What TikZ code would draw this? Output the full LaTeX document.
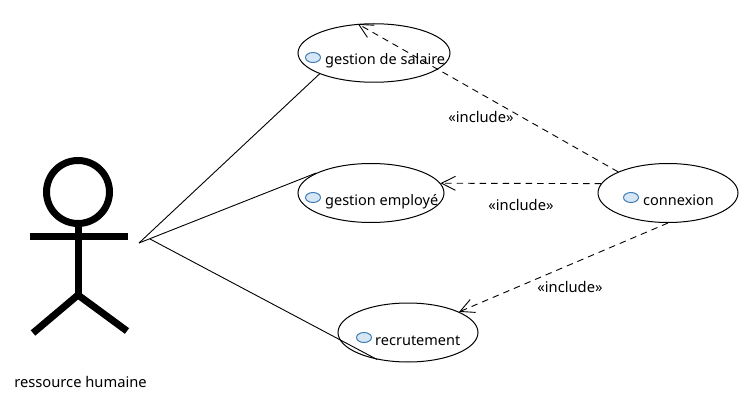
\documentclass[tikz,border=0pt]{standalone}
\usepackage{fontspec}
\setmainfont{Noto Sans}
\usetikzlibrary{arrows.meta,shapes.geometric}
\definecolor{iconfill}{HTML}{D6E6F5}
\definecolor{iconline}{HTML}{3F7FB5}
\tikzset{
  usecase/.style={draw,ellipse,line width=1pt,inner sep=0pt},
  usecaseicon/.style={draw=iconline,fill=iconfill,ellipse,line width=1pt,minimum width=15pt,minimum height=10pt,inner sep=0pt},
  casetext/.style={anchor=base west,inner sep=0pt,font=\fontsize{14.5}{16}\selectfont},
  steplabel/.style={anchor=base,inner sep=0pt,font=\fontsize{14.7}{16}\selectfont},
  assoc/.style={line width=0.9pt},
  incl/.style={dashed,dash pattern=on 6.5pt off 5pt,line width=0.9pt,-{Straight Barb[length=14pt,width=14pt,line width=0.9pt]}},
  stick/.style={line width=7pt}
}
\begin{document}
\begin{tikzpicture}[x=1pt,y=1pt]
\useasboundingbox (0,0) rectangle (748,400);
\node[usecase,minimum width=152pt,minimum height=58.5pt] (salaire) at (374,347) {};
\node[usecase,minimum width=146pt,minimum height=59pt] (employe) at (371,207) {};
\node[usecase,minimum width=140pt,minimum height=59pt] (recrutement) at (408,67.5) {};
\node[usecase,minimum width=140pt,minimum height=59pt] (connexion) at (668,207) {};
\node[usecaseicon] (salaireicon) at (313,342.5) {};
\node[usecaseicon] (employeicon) at (313,202.5) {};
\node[usecaseicon] (recrutementicon) at (364,62.5) {};
\node[usecaseicon] (connexionicon) at (631,202.5) {};
\node[casetext] (salairetext) at (325,335) {gestion de salaire};
\node[casetext] (employetext) at (325,195) {gestion employé};
\node[casetext] (recrutementtext) at (375,55) {recrutement};
\node[casetext] (connexiontext) at (643,195) {connexion};
\node[circle,draw,stick,minimum size=63pt,inner sep=0pt] (head) at (78,208) {};
\coordinate (armleft) at (30,164);
\coordinate (armright) at (128,164);
\coordinate (hip) at (78,105);
\coordinate (footleft) at (33,67);
\coordinate (footright) at (127,69);
\draw[stick] (armleft) -- (armright);
\draw[stick] (head.south) -- (hip);
\draw[stick] (footleft) -- (hip) -- (footright);
\node[steplabel] (actorname) at (80.5,13) {ressource humaine};
\coordinate (apex) at (139,157);
\coordinate (fork) at (150,161);
\draw[assoc] (apex) -- (salaire.201);
\draw[assoc] (apex) -- (employe.160);
\draw[assoc] (fork) -- (recrutement.221);
\draw[incl] (connexion.157) -- (salaire.119);
\draw[incl] (connexion.172) -- (employe.8);
\draw[incl] (connexion.270) -- (recrutement.22);
\node[steplabel] (inclsalaire) at (481,278) {«include»};
\node[steplabel] (inclemploye) at (521,190) {«include»};
\node[steplabel] (inclrecrutement) at (570,108) {«include»};
\end{tikzpicture}
\end{document}
